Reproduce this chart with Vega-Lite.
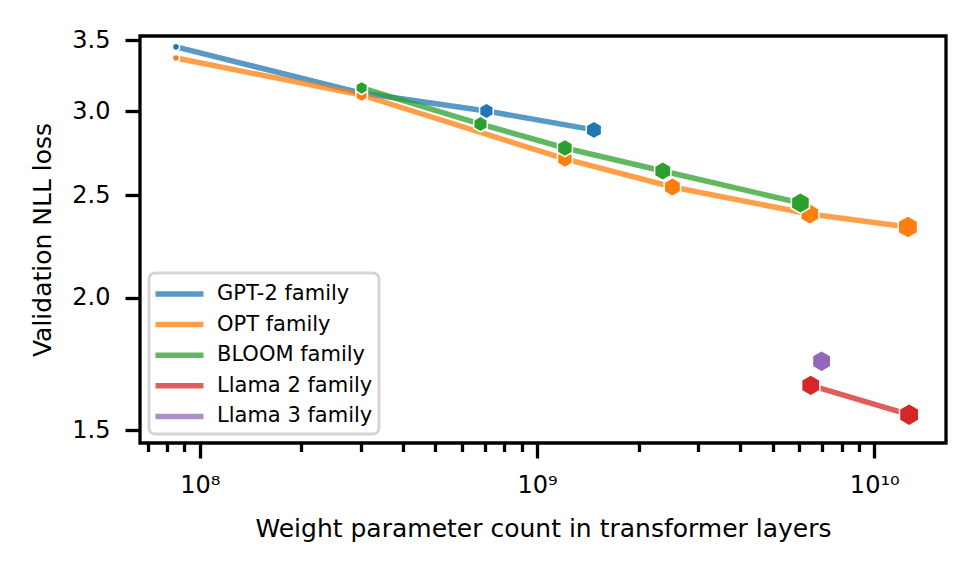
{
  "$schema": "https://vega.github.io/schema/vega-lite/v6.json",
  "width": 806,
  "height": 407,
  "autosize": "none",
  "padding": {"left": 140, "top": 36, "right": 29, "bottom": 127},
  "background": "white",
  "config": {
    "font": "DejaVu Sans",
    "view": {"stroke": "black", "strokeWidth": 3.3},
    "axis": {
      "domain": false,
      "grid": false,
      "tickColor": "black",
      "tickWidth": 3.3,
      "labelColor": "black",
      "titleColor": "black",
      "labelFont": "DejaVu Sans",
      "titleFont": "DejaVu Sans",
      "labelFontSize": 24,
      "titleFontSize": 25,
      "titleFontWeight": "normal"
    },
    "legend": {
      "strokeColor": "#d5d5d5",
      "strokeWidth": 3,
      "fillColor": "rgba(255,255,255,0.8)",
      "cornerRadius": 6,
      "padding": 6
    }
  },
  "data": {
    "values": [
      {"family": "GPT-2 family", "params": 85000000, "loss": 3.450},
      {"family": "GPT-2 family", "params": 302000000, "loss": 3.121},
      {"family": "GPT-2 family", "params": 708000000, "loss": 3.002},
      {"family": "GPT-2 family", "params": 1475000000, "loss": 2.881},
      {"family": "OPT family", "params": 85000000, "loss": 3.368},
      {"family": "OPT family", "params": 302000000, "loss": 3.108},
      {"family": "OPT family", "params": 1210000000, "loss": 2.705},
      {"family": "OPT family", "params": 2520000000, "loss": 2.545},
      {"family": "OPT family", "params": 6440000000, "loss": 2.400},
      {"family": "OPT family", "params": 12580000000, "loss": 2.333},
      {"family": "BLOOM family", "params": 302000000, "loss": 3.156},
      {"family": "BLOOM family", "params": 680000000, "loss": 2.918},
      {"family": "BLOOM family", "params": 1210000000, "loss": 2.770},
      {"family": "BLOOM family", "params": 2360000000, "loss": 2.635},
      {"family": "BLOOM family", "params": 6040000000, "loss": 2.458},
      {"family": "Llama 2 family", "params": 6480000000, "loss": 1.654},
      {"family": "Llama 2 family", "params": 12690000000, "loss": 1.552},
      {"family": "Llama 3 family", "params": 6980000000, "loss": 1.743}
    ]
  },
  "encoding": {
    "x": {
      "field": "params",
      "type": "quantitative",
      "scale": {"type": "log", "domain": [66500000, 16320000000], "nice": false},
      "axis": {
        "title": "Weight parameter count in transformer layers",
        "values": [70000000, 80000000, 90000000, 100000000, 200000000, 300000000, 400000000, 500000000, 600000000, 700000000, 800000000, 900000000, 1000000000, 2000000000, 3000000000, 4000000000, 5000000000, 6000000000, 7000000000, 8000000000, 9000000000, 10000000000],
        "labelExpr": "datum.value == 1e8 ? '10⁸' : datum.value == 1e9 ? '10⁹' : datum.value == 1e10 ? '10¹⁰' : ''",
        "tickSize": {"condition": {"test": "datum.value == 1e8 || datum.value == 1e9 || datum.value == 1e10", "value": 15}, "value": 8.5},
        "labelPadding": 15,
        "titlePadding": 19
      }
    },
    "y": {
      "field": "loss",
      "type": "quantitative",
      "scale": {"type": "log", "domain": [1.4594, 3.533], "nice": false},
      "axis": {
        "title": "Validation NLL loss",
        "values": [1.5, 2, 2.5, 3, 3.5],
        "format": ".1f",
        "tickSize": 15,
        "labelPadding": 15,
        "titlePadding": 16
      }
    }
  },
  "layer": [
    {
      "mark": {"type": "line", "strokeWidth": 5.5, "opacity": 0.75, "strokeJoin": "round"},
      "encoding": {
        "stroke": {
          "field": "family",
          "type": "nominal",
          "scale": {
            "domain": ["GPT-2 family", "OPT family", "BLOOM family", "Llama 2 family", "Llama 3 family"],
            "range": ["#1f77b4", "#ff7f0e", "#2ca02c", "#d62728", "#9467bd"]
          },
          "legend": {
            "title": null,
            "orient": "bottom-left",
            "offset": 9,
            "symbolType": "M-1.21,0H2.79",
            "symbolSize": 576,
            "symbolStrokeWidth": 5.5,
            "symbolOpacity": 0.75,
            "labelFontSize": 21,
            "labelFont": "DejaVu Sans",
            "labelColor": "black",
            "labelOffset": 32,
            "labelLimit": 400,
            "rowPadding": 4.6
          }
        }
      }
    },
    {
      "mark": {
        "type": "point",
        "shape": "M0,-1L0.866,-0.5L0.866,0.5L0,1L-0.866,0.5L-0.866,-0.5Z",
        "filled": true,
        "opacity": 1,
        "stroke": "white",
        "strokeWidth": 1.5
      },
      "encoding": {
        "fill": {
          "field": "family",
          "type": "nominal",
          "scale": {
            "domain": ["GPT-2 family", "OPT family", "BLOOM family", "Llama 2 family", "Llama 3 family"],
            "range": ["#1f77b4", "#ff7f0e", "#2ca02c", "#d62728", "#9467bd"]
          },
          "legend": null
        },
        "size": {
          "field": "params",
          "type": "quantitative",
          "scale": {"type": "log", "range": [64, 500]},
          "legend": null
        }
      }
    }
  ]
}
